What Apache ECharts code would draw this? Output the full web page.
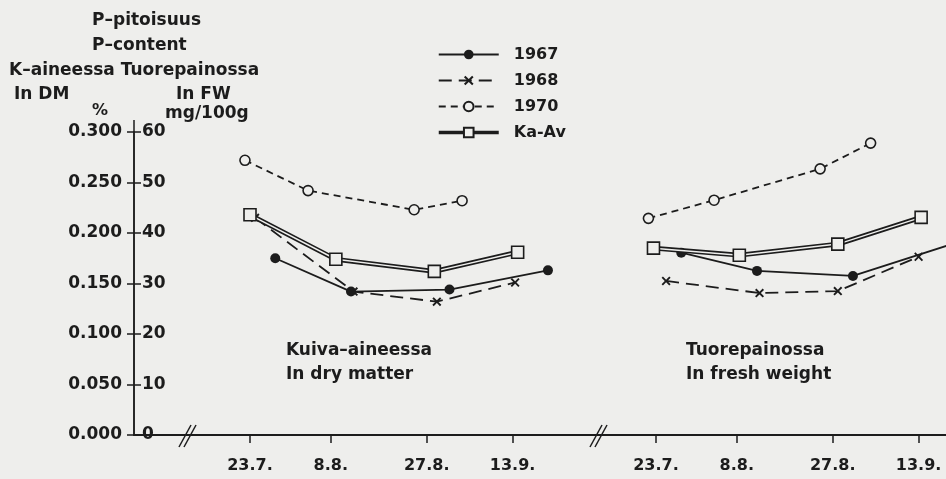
<!DOCTYPE html>
<html><head><meta charset="utf-8">
<script src="https://cdn.jsdelivr.net/npm/echarts@6/dist/echarts.min.js"></script>
<style>html,body{margin:0;padding:0;background:#eeeeec}#c{width:946px;height:479px}</style>
</head><body><div id="c"></div>
<script>
// ---- data ----
const tickDays = [204, 220, 239, 256];               // day-of-year of the dates
const tickLabels = ['23.7.', '8.8.', '27.8.', '13.9.'];
const dmTickLabels = ['0.000','0.050','0.100','0.150','0.200','0.250','0.300'];

// Dry matter (%)
const dm1967Days = [209, 224, 243.5, 263];
const dm1967 = [0.175, 0.142, 0.144, 0.163];
const dm1968Days = [205, 224.5, 241, 256.5];
const dm1968 = [0.215, 0.142, 0.132, 0.151];
const dm1970Days = [203, 215.5, 236.5, 246];
const dm1970 = [0.272, 0.242, 0.223, 0.232];
const dmKaAvDays = [204, 221, 240.5, 257];
const dmKaAv = [0.218, 0.174, 0.162, 0.181];

// Fresh weight (mg/100 g)
const fw1967Days = [209, 224, 243, 262];
const fw1967 = [36.1, 32.5, 31.5, 37.6];
const fw1968Days = [206, 224.5, 240, 256];
const fw1968 = [30.5, 28.1, 28.5, 35.3];
const fw1970Days = [202.5, 215.5, 236.5, 246.5];
const fw1970 = [42.9, 46.5, 52.7, 57.8];
const fwKaAvDays = [203.5, 220.5, 240, 256.5];
const fwKaAv = [37.0, 35.6, 37.8, 43.1];

// ---- styling ----
const ink = '#1c1c1c', bg = '#eeeeec';
const font = '"DejaVu Sans"';
const crossPath = 'path://M0,1.5L1.5,0L5,3.5L8.5,0L10,1.5L6.5,5L10,8.5L8.5,10L5,6.5L1.5,10L0,8.5L3.5,5Z';
const pair = (xs, ys) => xs.map((x, i) => [x, ys[i]]);

function mk(name, xs, ys, yIdx, xIdx, kind) {
  const base = { type: 'line', xAxisIndex: xIdx, yAxisIndex: yIdx, data: pair(xs, ys), clip: true, animation: false };
  if (kind === '1967') return [Object.assign(base, { name, symbol: 'circle', symbolSize: 10, itemStyle: { color: ink }, lineStyle: { color: ink, width: 1.8 }, z: 4 })];
  if (kind === '1968') return [Object.assign(base, { name, symbol: crossPath, symbolSize: 9, itemStyle: { color: ink }, lineStyle: { color: ink, width: 1.8, type: [13, 7] }, z: 4 })];
  if (kind === '1970') return [Object.assign(base, { name, symbol: 'circle', symbolSize: 10, itemStyle: { color: bg, borderColor: ink, borderWidth: 1.6 }, lineStyle: { color: ink, width: 1.8, type: [7, 5] }, z: 4 })];
  // Ka-Av: double line = thick dark line + light inner line with squares
  return [
    Object.assign({}, base, { name: 'kaav-outer', symbol: 'none', lineStyle: { color: ink, width: 4.8 }, z: 5, silent: true }),
    Object.assign({}, base, { name, symbol: 'rect', symbolSize: 12, itemStyle: { color: bg, borderColor: ink, borderWidth: 1.6 }, lineStyle: { color: bg, width: 1.5 }, z: 6 })
  ];
}

const series = [].concat(
  mk('1967', dm1967Days, dm1967, 0, 0, '1967'),
  mk('1968', dm1968Days, dm1968, 0, 0, '1968'),
  mk('1970', dm1970Days, dm1970, 0, 0, '1970'),
  mk('Ka-Av', dmKaAvDays, dmKaAv, 0, 0, 'kaav'),
  mk('1967', fw1967Days, fw1967, 2, 1, '1967'),
  mk('1968', fw1968Days, fw1968, 2, 1, '1968'),
  mk('1970', fw1970Days, fw1970, 2, 1, '1970'),
  mk('Ka-Av', fwKaAvDays, fwKaAv, 2, 1, 'kaav')
);

const pxPerDay = 5.05;
const g0 = { left: 134, top: 132, width: 463, height: 303 };
const g1 = { left: 597, top: 132, width: 349, height: 303 };
const x0min = 204 - 116 / pxPerDay;
const x1min = 204 - (656 - g1.left) / pxPerDay;

const xAxisCommon = {
  type: 'value', splitLine: { show: false },
  axisLine: { show: true, lineStyle: { color: ink, width: 2 } },
  axisTick: { show: true, customValues: tickDays, length: 8, inside: false, lineStyle: { color: ink, width: 1.5 } },
  axisLabel: { customValues: tickDays, formatter: v => tickLabels[tickDays.indexOf(v)] || '', color: ink, fontFamily: font, fontWeight: 'bold', fontSize: 16, margin: 23 }
};

const chart = echarts.init(document.getElementById('c'));
chart.setOption({
  backgroundColor: bg,
  animation: false,
  grid: [g0, g1],
  xAxis: [
    Object.assign({}, xAxisCommon, { gridIndex: 0, min: x0min, max: x0min + g0.width / pxPerDay }),
    Object.assign({}, xAxisCommon, { gridIndex: 1, min: x1min, max: x1min + g1.width / pxPerDay })
  ],
  yAxis: [
    { gridIndex: 0, type: 'value', min: 0, max: 0.3, interval: 0.05, position: 'left', splitLine: { show: false },
      axisLine: { show: true, lineStyle: { color: ink, width: 1.5 } },
      axisTick: { show: true, length: 7, lineStyle: { color: ink, width: 1.5 } },
      axisLabel: { formatter: (v) => dmTickLabels[Math.round(v / 0.05)], color: ink, fontFamily: font, fontWeight: 'bold', fontSize: 17, margin: 12 } },
    { gridIndex: 0, type: 'value', min: 0, max: 60, interval: 10, position: 'left', splitLine: { show: false },
      axisLine: { show: true, lineStyle: { color: ink, width: 1.5 } },
      axisTick: { show: true, inside: true, length: 7, lineStyle: { color: ink, width: 1.5 } },
      axisLabel: { inside: true, color: ink, fontFamily: font, fontWeight: 'bold', fontSize: 17, margin: 8 } },
    { gridIndex: 1, type: 'value', min: 0, max: 60, show: false }
  ],
  legend: {
    orient: 'vertical', left: 432, top: 40, itemWidth: 60, itemHeight: 12, itemGap: 7,
    data: ['1967', '1968', '1970', { name: 'Ka-Av', lineStyle: { color: ink, width: 3.5 } }],
    textStyle: { color: ink, fontFamily: font, fontWeight: 'bold', fontSize: 16, lineHeight: 19, padding: [0, 0, 0, 10] },
    selectedMode: false
  },
  graphic: [
    { type: 'text', left: 92, top: 12, style: { text: 'P–pitoisuus', font: 'bold 17px "DejaVu Sans"', fill: ink } },
    { type: 'text', left: 92, top: 37, style: { text: 'P–content', font: 'bold 17px "DejaVu Sans"', fill: ink } },
    { type: 'text', left: 9, top: 62, style: { text: 'K–aineessa Tuorepainossa', font: 'bold 17px "DejaVu Sans"', fill: ink } },
    { type: 'text', left: 14, top: 86, style: { text: 'In DM', font: 'bold 17px "DejaVu Sans"', fill: ink } },
    { type: 'text', left: 176, top: 86, style: { text: 'In FW', font: 'bold 17px "DejaVu Sans"', fill: ink } },
    { type: 'text', left: 92, top: 103, style: { text: '%', font: 'bold 16px "DejaVu Sans"', fill: ink } },
    { type: 'text', left: 165, top: 105, style: { text: 'mg/100g', font: 'bold 17px "DejaVu Sans"', fill: ink } },
    { type: 'text', left: 286, top: 339, style: { text: 'Kuiva–aineessa\nIn dry matter', font: 'bold 17px "DejaVu Sans"', lineHeight: 24, fill: ink } },
    { type: 'text', left: 686, top: 339, style: { text: 'Tuorepainossa\nIn fresh weight', font: 'bold 17px "DejaVu Sans"', lineHeight: 24, fill: ink } },
    // axis break marks
    { type: 'line', shape: { x1: 179, y1: 447, x2: 191, y2: 425 }, style: { stroke: ink, lineWidth: 1.5 } },
    { type: 'line', shape: { x1: 184, y1: 447, x2: 196, y2: 425 }, style: { stroke: ink, lineWidth: 1.5 } },
    { type: 'line', shape: { x1: 590, y1: 447, x2: 602, y2: 425 }, style: { stroke: ink, lineWidth: 1.5 } },
    { type: 'line', shape: { x1: 595, y1: 447, x2: 607, y2: 425 }, style: { stroke: ink, lineWidth: 1.5 } },
    // y axis extends a bit above the top tick
    { type: 'line', shape: { x1: 134, y1: 120, x2: 134, y2: 132 }, style: { stroke: ink, lineWidth: 1.5 } }
  ],
  series: series
});
</script></body></html>
